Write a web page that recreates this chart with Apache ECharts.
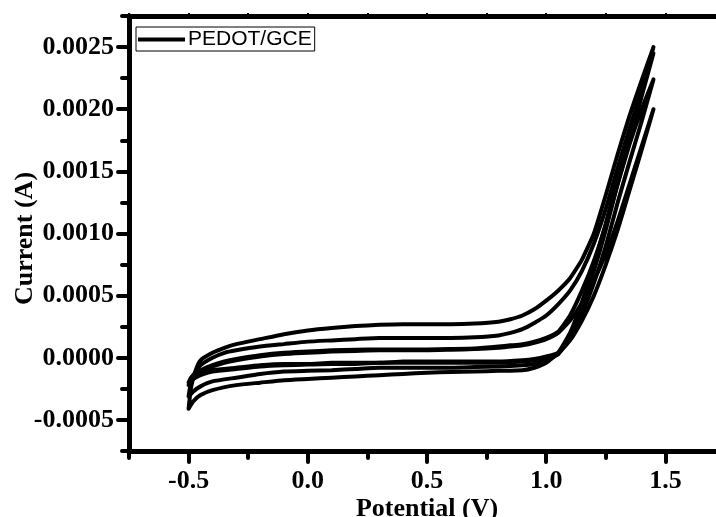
<!DOCTYPE html>
<html><head><meta charset="utf-8">
<script src="https://cdn.jsdelivr.net/npm/echarts@6/dist/echarts.min.js"></script>
<style>html,body{margin:0;padding:0;background:#fff}#c{width:716px;height:517px}</style>
</head><body><div id="c"></div>
<script>
const seriesName = 'PEDOT/GCE';
const xTitle = 'Potential (V)';
const yTitle = 'Current (A)';

// potentials (V) of the anodic (forward) and cathodic (reverse) sweeps
const potFwd = [-0.5, -0.49, -0.47, -0.45, -0.4, -0.35, -0.3, -0.2, -0.1, 0.0, 0.1, 0.2, 0.3, 0.4, 0.5, 0.6, 0.7, 0.8, 0.85, 0.9, 0.95, 1.0, 1.05, 1.1, 1.15, 1.2, 1.25, 1.3, 1.35, 1.4, 1.45];
const potRev = [1.45, 1.4, 1.35, 1.3, 1.25, 1.2, 1.15, 1.1, 1.05, 1.0, 0.95, 0.9, 0.8, 0.7, 0.6, 0.5, 0.4, 0.3, 0.2, 0.1, 0.0, -0.1, -0.2, -0.3, -0.4, -0.45, -0.48, -0.5];

// currents (A), cycle 1..4
const curFwd1 = [-0.00041, -0.00024, -0.0001, -0.00002, 0.00004, 0.00008, 0.00011, 0.00015, 0.00019, 0.00022, 0.00024, 0.000255, 0.000265, 0.00027, 0.00027, 0.00027, 0.000275, 0.00029, 0.00031, 0.00034, 0.00039, 0.00046, 0.00054, 0.00064, 0.00079, 0.001, 0.00131, 0.00164, 0.00195, 0.00223, 0.0025];
const curRev1 = [0.0025, 0.00215, 0.0018, 0.00145, 0.00108, 0.00075, 0.00045, 0.0002, 0.00004, -0.00004, -0.00008, -0.0001, -0.000105, -0.00011, -0.000115, -0.00012, -0.00013, -0.00014, -0.00015, -0.00016, -0.00017, -0.00018, -0.0002, -0.00022, -0.00026, -0.0003, -0.00035, -0.00041];

const curFwd2 = [-0.00031, -0.0002, -0.00011, -0.00006, 0.0, 0.00004, 0.00006, 0.00009, 0.00011, 0.00013, 0.00014, 0.00015, 0.00016, 0.00016, 0.00016, 0.00016, 0.000165, 0.00018, 0.0002, 0.00023, 0.00028, 0.00034, 0.00043, 0.00054, 0.0007, 0.00092, 0.0012, 0.00153, 0.00185, 0.00215, 0.00245];
const curRev2 = [0.00245, 0.0021, 0.00175, 0.0014, 0.00103, 0.0007, 0.00042, 0.00018, 0.00003, -0.00002, -0.00005, -0.00006, -0.00007, -0.000075, -0.00008, -0.00008, -0.00008, -0.00008, -0.00009, -0.0001, -0.000105, -0.00011, -0.00013, -0.00016, -0.00019, -0.00023, -0.00027, -0.00031];

const curFwd3 = [-0.0002, -0.00016, -0.00012, -0.0001, -0.00006, -0.00003, -0.00001, 0.00002, 0.00004, 0.00005, 0.00006, 0.000065, 0.000066, 0.000066, 0.000066, 0.00007, 0.000075, 0.00009, 0.0001, 0.00011, 0.00013, 0.00016, 0.00021, 0.00034, 0.00054, 0.00078, 0.00107, 0.0014, 0.00172, 0.002, 0.00224];
const curRev3 = [0.00224, 0.0019, 0.00158, 0.00125, 0.0009, 0.0006, 0.00035, 0.00015, 0.00003, 0.0, -0.00002, -0.00003, -0.00004, -0.00004, -0.00004, -0.00004, -0.00004, -0.00004, -0.00005, -0.00005, -0.000055, -0.00006, -0.00007, -0.00009, -0.00011, -0.00014, -0.00017, -0.0002];

const curFwd4 = [-0.00022, -0.00017, -0.00013, -0.00011, -0.00007, -0.00004, -0.00002, 0.00001, 0.00003, 0.00004, 0.00005, 0.000055, 0.00006, 0.00006, 0.00006, 0.000065, 0.00007, 0.00008, 0.00009, 0.0001, 0.00012, 0.00015, 0.0002, 0.0003, 0.00044, 0.00062, 0.00084, 0.0011, 0.0014, 0.0017, 0.002];
const curRev4 = [0.002, 0.00167, 0.00135, 0.00103, 0.00075, 0.0005, 0.0003, 0.00014, 0.00004, 0.00001, -0.00001, -0.00002, -0.00003, -0.00003, -0.00003, -0.00003, -0.00003, -0.00004, -0.00004, -0.00004, -0.00005, -0.00005, -0.00006, -0.00008, -0.0001, -0.00013, -0.00017, -0.00022];

const cycles = [[curFwd1, curRev1], [curFwd2, curRev2], [curFwd3, curRev3], [curFwd4, curRev4]];

// axis ticks
const xMajorTicks = [-0.5, 0.0, 0.5, 1.0, 1.5];
const xMinorTicks = [-0.75, -0.25, 0.25, 0.75, 1.25, 1.75];
const yMajorTicks = [-0.0005, 0.0, 0.0005, 0.001, 0.0015, 0.002, 0.0025];
const yMinorTicks = [-0.00075, -0.00025, 0.00025, 0.00075, 0.00125, 0.00175, 0.00225, 0.00275];

function loopData(fwd, rev) {
  const pts = [];
  potFwd.forEach((e, i) => pts.push([e, fwd[i]]));
  potRev.forEach((e, i) => pts.push([e, rev[i]]));
  return pts;
}

const serif = 'Liberation Serif';
const labelFont = {fontFamily: serif, fontWeight: 'bold', fontSize: 26, color: '#000'};
const XMIN = -0.75, XMAX = 1.75, YMIN = -0.00075, YMAX = 0.00275;
const tickStyle = {color: '#000', width: 4, cap: 'round'};

const chart = echarts.init(document.getElementById('c'), null, {renderer: 'canvas'});
chart.setOption({
  animation: false,
  backgroundColor: '#fff',
  grid: {left: 129, top: 16, width: 596, height: 435, containLabel: false, outerBoundsMode: 'none'},
  legend: {
    data: [{name: seriesName, icon: 'rect'}],
    left: 136, top: 27,
    itemWidth: 47, itemHeight: 4,
    padding: [2, 3, 1, 2],
    borderColor: '#000', borderWidth: 1,
    itemStyle: {color: '#000'},
    textStyle: {fontFamily: 'Liberation Sans', fontSize: 21, color: '#000', padding: [0, 0, 0, -2]}
  },
  xAxis: [
    {
      type: 'value', min: XMIN, max: XMAX, position: 'bottom',
      axisLine: {onZero: false, lineStyle: {color: '#000', width: 5}},
      axisTick: {customValues: xMajorTicks, length: 11, lineStyle: tickStyle},
      axisLabel: Object.assign({customValues: xMajorTicks, margin: 17, formatter: v => v.toFixed(1)}, labelFont),
      splitLine: {show: false},
      name: xTitle, nameLocation: 'middle', nameGap: 45, nameMoveOverlap: false,
      nameTextStyle: labelFont
    },
    {
      type: 'value', min: XMIN, max: XMAX, position: 'bottom',
      axisLine: {show: false, onZero: false},
      axisTick: {customValues: xMinorTicks, length: 7, lineStyle: tickStyle},
      axisLabel: {show: false}, splitLine: {show: false}
    },
    {
      type: 'value', min: XMIN, max: XMAX, position: 'top',
      axisLine: {onZero: false, lineStyle: {color: '#000', width: 5}},
      axisTick: {customValues: xMajorTicks.concat(xMinorTicks), length: 3, lineStyle: {color: '#000', width: 2}},
      axisLabel: {show: false}, splitLine: {show: false}
    }
  ],
  yAxis: [
    {
      type: 'value', min: YMIN, max: YMAX, position: 'left',
      axisLine: {onZero: false, lineStyle: {color: '#000', width: 5}},
      axisTick: {customValues: yMajorTicks, length: 11, lineStyle: tickStyle},
      axisLabel: Object.assign({customValues: yMajorTicks, margin: 15, formatter: v => v.toFixed(4)}, labelFont),
      splitLine: {show: false},
      name: yTitle, nameLocation: 'middle', nameGap: 91, nameMoveOverlap: false,
      nameTextStyle: Object.assign({padding: [0, 10, 0, 0]}, labelFont)
    },
    {
      type: 'value', min: YMIN, max: YMAX, position: 'left',
      axisLine: {show: false, onZero: false},
      axisTick: {customValues: yMinorTicks, length: 7, lineStyle: tickStyle},
      axisLabel: {show: false}, splitLine: {show: false}
    }
  ],
  series: cycles.map(c => ({
    name: seriesName,
    type: 'line',
    xAxisIndex: 0, yAxisIndex: 0,
    data: loopData(c[0], c[1]),
    showSymbol: false,
    smooth: 0.15,
    clip: true,
    itemStyle: {color: '#000'},
    lineStyle: {color: '#000', width: 4, cap: 'round', join: 'round'}
  }))
});
</script>
</body></html>
